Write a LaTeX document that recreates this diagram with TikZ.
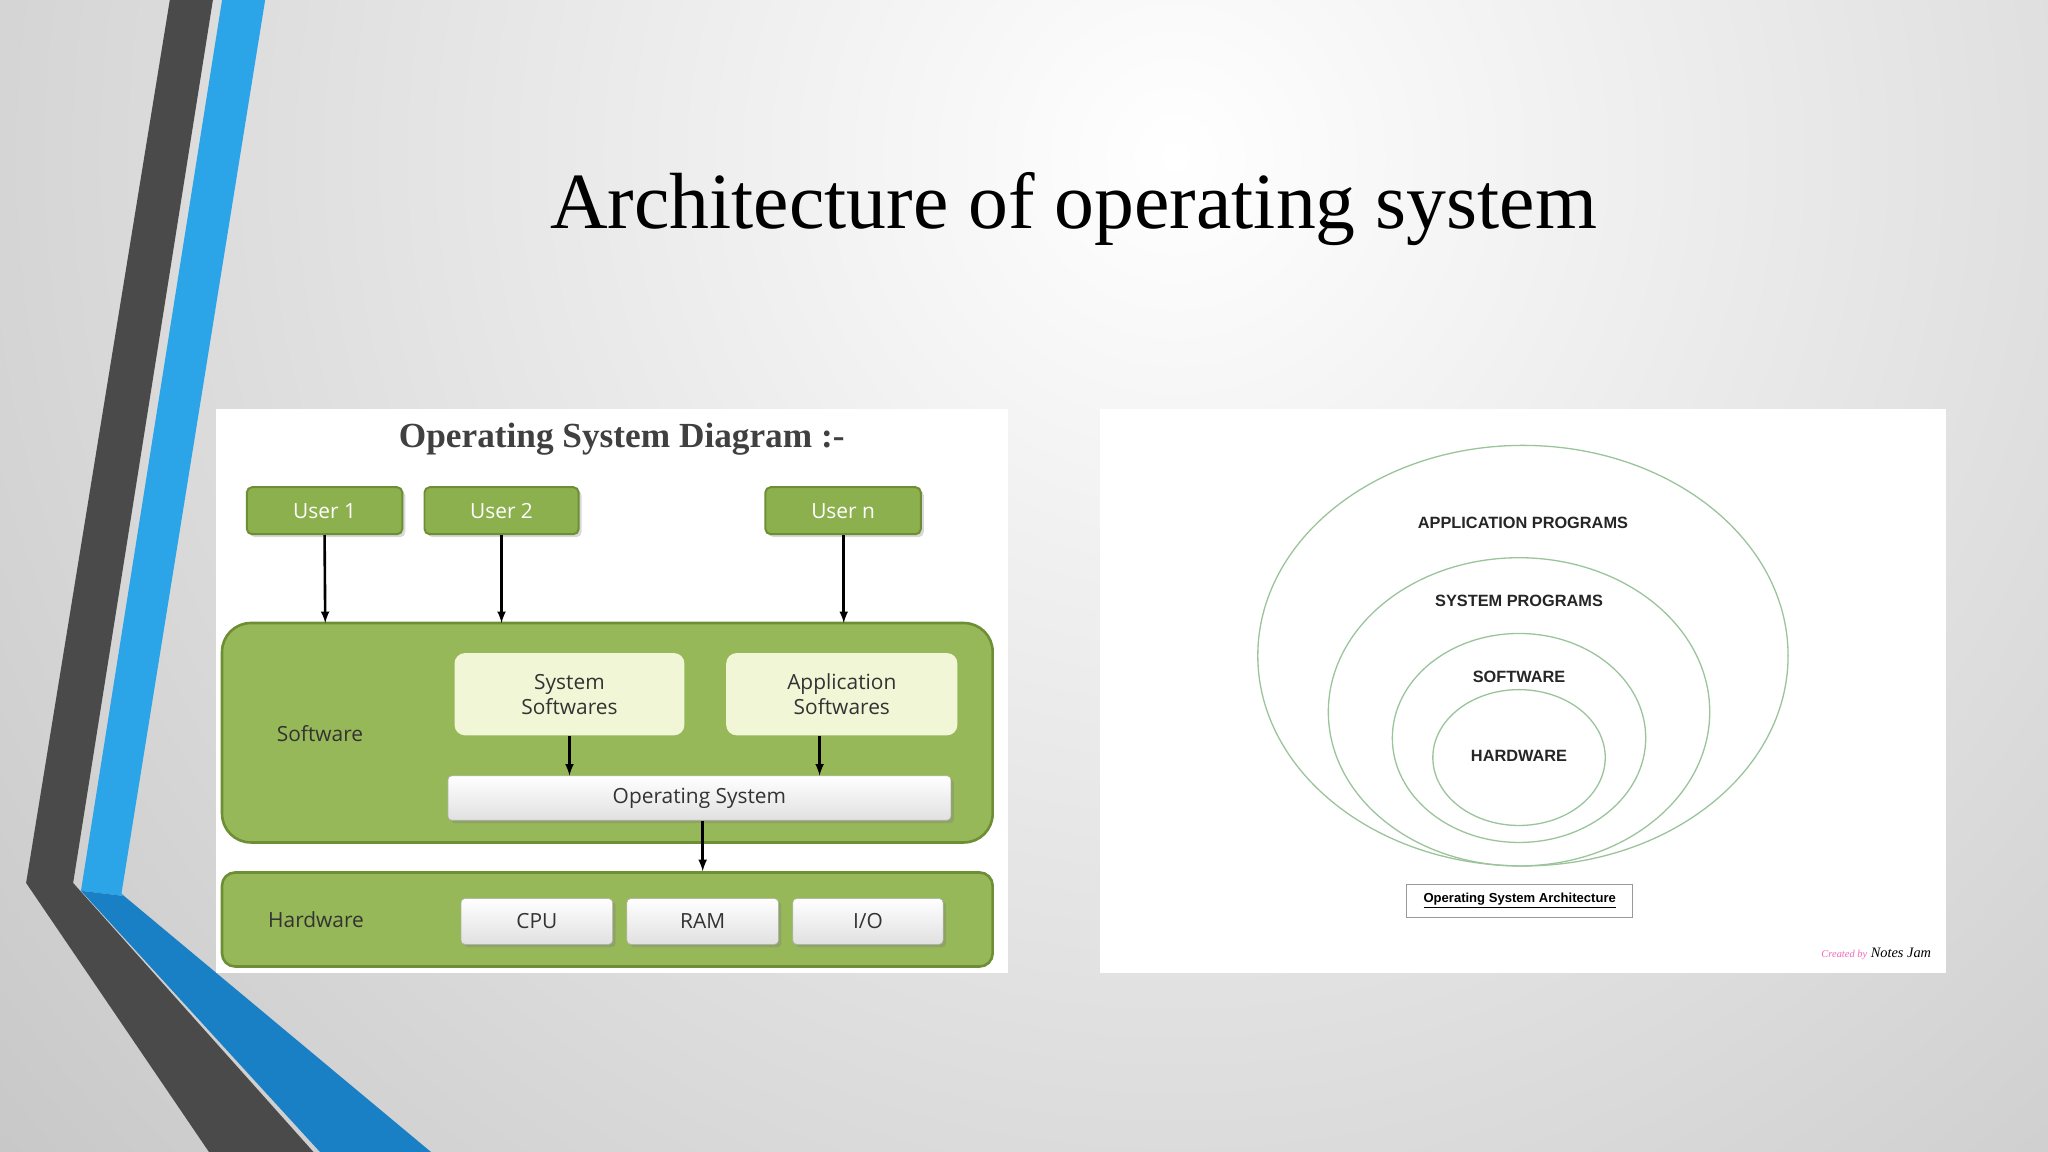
\documentclass[tikz,border=0pt]{standalone}
\usepackage{fontspec}
\setmainfont{Liberation Serif}
\newfontfamily\osans{Open Sans}
\newfontfamily\lsans{Liberation Sans}
\usetikzlibrary{shadows}
\definecolor{gbox}{HTML}{8DB04E}
\definecolor{gedge}{HTML}{6E8E35}
\definecolor{gbig}{HTML}{97B858}
\definecolor{pale}{HTML}{F1F6D6}
\definecolor{ring}{HTML}{9CC49C}
\definecolor{dstrip}{HTML}{4A4A4A}
\definecolor{bstrip}{HTML}{2CA4E8}
\definecolor{bstripd}{HTML}{1A80C6}
\tikzset{
 userbox/.style={draw=gedge,line width=1.5pt,fill=gbox,rounded corners=4pt,text=white,font=\osans\fontsize{16}{18}\selectfont,drop shadow={opacity=0.3}},
 bigbox/.style={draw=gedge,line width=2pt,fill=gbig,rounded corners=22pt},
 palebox/.style={fill=pale,rounded corners=8pt,align=center,text=black!80,font=\osans\fontsize{16}{19}\selectfont},
 graybox/.style={draw=black!30,top color=white,bottom color=black!12,rounded corners=3pt,text=black!80,font=\osans\fontsize{16}{18}\selectfont,drop shadow={opacity=0.35}},
 arr/.style={-latex,line width=2pt,black},
 ringlbl/.style={font=\lsans\bfseries\fontsize{12.5}{14}\selectfont,text=black!85},
 ringe/.style={draw=ring,line width=1pt}
}
\begin{document}
\begin{tikzpicture}[x=1pt,y=-1pt]
\useasboundingbox (0,0) rectangle (1568,882);
\begin{scope}
\clip (0,0) rectangle (1568,882);
\fill[black!22] (0,0) rectangle (1568,882);
\shade[inner color=white,outer color=black!22] (900,120) circle (1200);
\fill[dstrip] (130,0)--(163,0)--(56,676)--(240,882)--(160,882)--(20,676)--cycle;
\fill[bstrip] (170,0)--(203,0)--(93,684)--(95,686)--(62,682)--cycle;
\fill[bstripd] (62,682)--(95,686)--(330,882)--(245,882)--cycle;
\end{scope}
\node[font=\fontsize{61}{70}\selectfont] (title) at (822,160) {Architecture of operating system};

% left panel
\fill[white] (165,313) rectangle (772,745);
\node[font=\bfseries\fontsize{27}{30}\selectfont,text=black!75] (lt) at (476,336) {Operating System Diagram :-};
\node[userbox,minimum width=119pt,minimum height=36pt] (u1) at (248.5,391) {User 1};
\node[userbox,minimum width=118pt,minimum height=36pt] (u2) at (384,391) {User 2};
\node[userbox,minimum width=119pt,minimum height=36pt] (un) at (645.5,391) {User n};
\node[bigbox,minimum width=590pt,minimum height=168pt] (sw) at (465,561) {};
\node[font=\osans\fontsize{16}{18}\selectfont,text=black!80] (swl) at (245,562) {Software};
\node[palebox,minimum width=176pt,minimum height=63pt] (ss) at (436,531.5) {System\\Softwares};
\node[palebox,minimum width=177pt,minimum height=63pt] (as) at (644.5,531.5) {Application\\Softwares};
\node[graybox,minimum width=385pt,minimum height=34pt] (os) at (535.5,611) {Operating System};
\node[bigbox,rounded corners=10pt,minimum width=590pt,minimum height=72pt] (hw) at (465,704) {};
\node[font=\osans\fontsize{16}{18}\selectfont,text=black!80] (hwl) at (242,704) {Hardware};
\node[graybox,minimum width=116pt,minimum height=35pt] (cpu) at (411,705.5) {CPU};
\node[graybox,minimum width=116pt,minimum height=35pt] (ram) at (538,705.5) {RAM};
\node[graybox,minimum width=115pt,minimum height=35pt] (io) at (664.5,705.5) {I/O};
\coordinate (t1) at (249,477); \coordinate (t2) at (384,477); \coordinate (tn) at (646,477);
\draw[arr] (u1.south) -- (t1);
\draw[arr] (u2.south) -- (t2);
\draw[arr] (un.south -| tn) -- (tn);
\draw[arr] (ss.south) -- (ss.south |- os.north);
\draw[arr] ([xshift=-17pt]as.south) -- ([xshift=-17pt]as.south |- os.north);
\draw[arr] (os.south -| ram) -- (hw.north -| ram);

% right panel
\fill[white] (842,313) rectangle (1490,745);
\draw[ringe] (1166,502) ellipse (203 and 161);
\draw[ringe] (1163,545) ellipse (146 and 118);
\draw[ringe] (1163,565) ellipse (97 and 80);
\draw[ringe] (1163,580) ellipse (66 and 52);
\node[ringlbl] (ap) at (1166,400) {APPLICATION PROGRAMS};
\node[ringlbl] (sp) at (1163,460) {SYSTEM PROGRAMS};
\node[ringlbl] (sf) at (1163,518) {SOFTWARE};
\node[ringlbl] (hd) at (1163,579) {HARDWARE};
\node[draw=black!40,minimum width=173pt,minimum height=25pt,font=\lsans\bfseries\fontsize{10}{12}\selectfont] (cap) at (1163.5,689.5) {\underline{Operating System Architecture}};
\node[anchor=east,font=\itshape\fontsize{11}{12}\selectfont] (cr) at (1482,730) {\textcolor{magenta!60}{\fontsize{8}{9}\selectfont Created by} Notes Jam};
\end{tikzpicture}
\end{document}
